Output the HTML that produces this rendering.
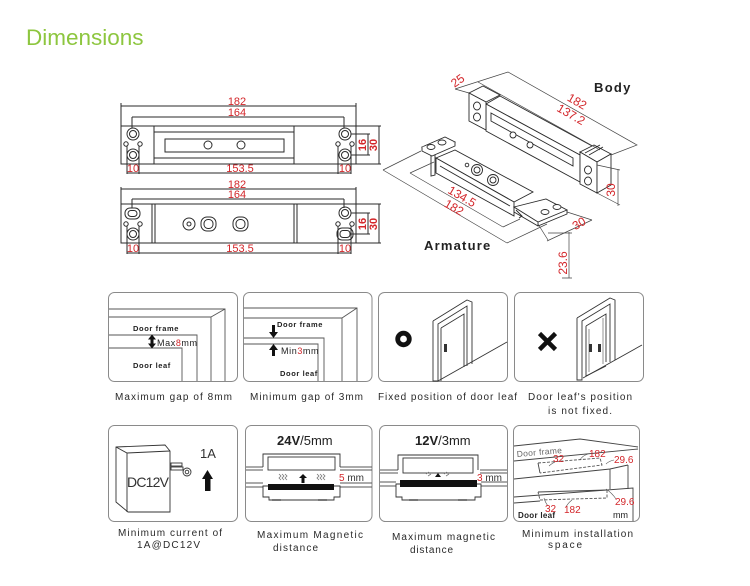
<!DOCTYPE html>
<html><head><meta charset="utf-8"><style>
html,body{margin:0;padding:0;background:#fff;}
svg{display:block;}
text{font-family:"Liberation Sans",sans-serif;}
</style></head><body>
<svg width="750" height="586" viewBox="0 0 750 586" xmlns="http://www.w3.org/2000/svg">
<rect width="750" height="586" fill="#fff"/>
<text x="26" y="45" font-size="22.5" fill="#8dc63f">Dimensions</text>

<!-- ===== Top view 1 ===== -->
<g fill="none" stroke="#2a2a2a" stroke-width="1">
<path d="M121,103V126 M356,103V126 M121,106H356 M132,117H344 M132,117V128 M344,117V128"/>
<rect x="121" y="126" width="235" height="38"/>
<rect x="154" y="126" width="140" height="38"/>
<path d="M154,132H294 M154,158H294"/>
<rect x="165" y="139" width="119" height="13"/>
<circle cx="208" cy="145" r="4"/><circle cx="241" cy="145" r="4"/>
<circle cx="133" cy="134" r="6"/><circle cx="133" cy="134" r="3.5"/>
<circle cx="133" cy="155" r="6"/><circle cx="133" cy="155" r="3.5"/>
<circle cx="126" cy="144" r="2.2"/><circle cx="140" cy="144" r="2.2"/>
<circle cx="345" cy="134" r="6"/><circle cx="345" cy="134" r="3.5"/>
<circle cx="345" cy="155" r="6"/><circle cx="345" cy="155" r="3.5"/>
<circle cx="338" cy="144" r="2.2"/><circle cx="352" cy="144" r="2.2"/>
<path d="M127,146V174 M139,146V174 M127,173H351 M338,146V174 M351,146V174"/>
<path d="M356,126H381 M356,164H381 M351,134H370 M351,155H370 M368,134V155 M379,126V164"/>
</g>
<g fill="#d3262a" font-size="11" text-anchor="middle">
<text x="237" y="105">182</text>
<text x="237" y="116">164</text>
<text x="133" y="172">10</text>
<text x="240" y="172">153.5</text>
<text x="345" y="172">10</text>
<text transform="translate(366,145) rotate(-90)" font-weight="bold">16</text>
<text transform="translate(377,145) rotate(-90)" font-weight="bold">30</text>
</g>

<!-- ===== Top view 2 ===== -->
<g fill="none" stroke="#2a2a2a" stroke-width="1">
<path d="M121,187V204 M356,187V204 M121,189H356 M132,199H344 M132,199V208 M344,199V208"/>
<rect x="121" y="204" width="235" height="39"/>
<path d="M152,204V243 M155,204V243 M294,204V243 M297,204V243"/>
<circle cx="189" cy="224" r="6"/><circle cx="189" cy="224" r="2"/>
<rect x="201" y="217" width="15" height="14" rx="6"/><rect x="204" y="219.5" width="9" height="9" rx="4"/>
<rect x="233" y="217" width="15" height="14" rx="6"/><rect x="236" y="219.5" width="9" height="9" rx="4"/>
<rect x="125" y="208" width="15" height="11" rx="5"/><rect x="128" y="210.5" width="9" height="6" rx="3"/>
<circle cx="126" cy="224" r="2.2"/><circle cx="140" cy="224" r="2.2"/>
<circle cx="133" cy="234" r="6"/><circle cx="133" cy="234" r="3.5"/>
<circle cx="345" cy="213" r="6"/><circle cx="345" cy="213" r="3.5"/>
<circle cx="338" cy="224" r="2.2"/><circle cx="352" cy="224" r="2.2"/>
<rect x="337" y="228" width="16" height="12" rx="5"/><rect x="340" y="230.5" width="10" height="7" rx="3"/>
<path d="M127,226V254 M139,226V254 M127,253H351 M338,226V254 M351,226V254"/>
<path d="M356,204H381 M356,243H381 M351,213H370 M351,234H370 M368,213V234 M379,204V243"/>
</g>
<g fill="#d3262a" font-size="11" text-anchor="middle">
<text x="237" y="188">182</text>
<text x="237" y="198">164</text>
<text x="133" y="252">10</text>
<text x="240" y="252">153.5</text>
<text x="345" y="252">10</text>
<text transform="translate(366,224) rotate(-90)" font-weight="bold">16</text>
<text transform="translate(377,224) rotate(-90)" font-weight="bold">30</text>
</g>

<!-- ===== Isometric body ===== -->
<g fill="#fff" stroke="#2a2a2a" stroke-width="0.9">
<polygon points="486,104 500,96 594,147 580,155"/>
<polygon points="486,104 580,155 580,182 486,131"/>
<polygon points="491,113 573,158 573,166 491,121" fill="none"/>
<circle cx="513" cy="135" r="3"/><circle cx="530" cy="145" r="3"/>
<polygon points="469,93 483,86 500,95 486,102"/>
<polygon points="469,93 486,102 486,130 469,121"/>
<ellipse cx="477" cy="106" rx="3.5" ry="4"/><ellipse cx="477" cy="117" rx="3.5" ry="4"/>
<polygon points="580,152 594,145 611,154 597,162"/>
<polygon points="580,152 597,162 597,193 580,184"/>
<polygon points="597,162 611,154 611,185 597,193"/>
<ellipse cx="588" cy="170" rx="3.5" ry="4"/><ellipse cx="588" cy="181" rx="3.5" ry="4"/>
<path d="M585,153 L600,145 M589,155 L603,147" fill="none"/>
</g>
<g fill="none" stroke="#444" stroke-width="0.7">
<path d="M455,89 L508,72 L637,145 L611,155 M478,82 L600,150 M455,89 L469,93"/>
<path d="M597,165 L620,170 M597,193 L620,205 M618,169 V206"/>
</g>
<g fill="#d3262a" font-size="12" text-anchor="middle">
<text transform="translate(460,84) rotate(-35)">25</text>
<text transform="translate(575,105) rotate(30)">182</text>
<text transform="translate(569,118) rotate(30)">137.2</text>
<text transform="translate(615,190) rotate(-90)">30</text>
</g>
<text x="594" y="92" font-size="13" font-weight="bold" letter-spacing="1.3" fill="#222">Body</text>

<!-- ===== Isometric armature ===== -->
<g fill="#fff" stroke="#2a2a2a" stroke-width="0.9">
<polygon points="431,153 435,151 435,175 431,176"/>
<polygon points="422,147 445,137 455,142 432,152"/>
<path d="M422,147 V151 L432,156 L455,146 V142" />
<ellipse cx="431" cy="147" rx="4" ry="2.5"/><ellipse cx="442" cy="142.5" rx="4" ry="2.5"/>
<polygon points="436,158 455,150 533,192 514,202"/>
<polygon points="436,158 514,202 514,216 436,173"/>
<path d="M440,166 L510,206" fill="none"/>
<circle cx="467" cy="165" r="1.8"/>
<circle cx="477" cy="170" r="5.5"/><circle cx="477" cy="170" r="3"/>
<circle cx="493" cy="180" r="5.5"/><circle cx="493" cy="180" r="3"/>
<polygon points="514,207 546,199 567,210 538,222"/>
<path d="M514,207 V212 L538,226 L567,214 V210 M538,222 V226" fill="none"/>
<ellipse cx="545" cy="212" rx="4" ry="2.5"/><ellipse cx="557" cy="207" rx="4" ry="2.5"/>
<path d="M516,210 L522,216 L519,218" fill="none"/>
</g>
<g fill="none" stroke="#444" stroke-width="0.7">
<path d="M383,170 L507,243 M383,170 L421,151 M410,173 L503,227 M410,173 L434,162"/>
<path d="M503,227 L520,219 M507,243 L547,224"/>
<path d="M547,241 L592,220 M538,224 L548,240 M567,212 L592,220"/>
<path d="M548,233 H572 M569,232 V278 M562,278 H572"/>
</g>
<g fill="#d3262a" font-size="12" text-anchor="middle">
<text transform="translate(460,200) rotate(30)">134.5</text>
<text transform="translate(452,211) rotate(30)">182</text>
<text transform="translate(581,227) rotate(-30)">30</text>
<text transform="translate(567,263) rotate(-90)">23.6</text>
</g>
<text x="424" y="250" font-size="13" font-weight="bold" letter-spacing="1.2" fill="#222">Armature</text>

<!-- ===== Panels ===== -->
<g fill="#fff" stroke="#8a8a8a" stroke-width="1">
<rect x="108.5" y="292.5" width="129" height="89" rx="6"/>
<rect x="243.5" y="292.5" width="128.5" height="89" rx="6"/>
<rect x="378.5" y="292.5" width="129" height="89" rx="6"/>
<rect x="514.5" y="292.5" width="129" height="89" rx="6"/>
<rect x="108.5" y="425.5" width="129" height="96" rx="6"/>
<rect x="245.5" y="425.5" width="126.5" height="96" rx="6"/>
<rect x="379.5" y="425.5" width="128" height="96" rx="6"/>
<rect x="513.5" y="425.5" width="126" height="96" rx="6"/>
</g>

<!-- Panel 1 -->
<g fill="none" stroke="#555" stroke-width="0.9">
<path d="M109,309H225V381 M109,317H211V381 M211,317L225,309 M109,335H197V381 M109,348H182V381"/>
</g>
<g fill="#222" font-size="7.5" font-weight="bold" letter-spacing="0.6">
<text x="133" y="331">Door frame</text>
<text x="133" y="368">Door leaf</text>
</g>
<text x="157" y="346" font-size="9" letter-spacing="0.6" fill="#222">Max<tspan fill="#d3262a">8</tspan>mm</text>
<g fill="#111">
<polygon points="148,339.5 152,334.5 156,339.5"/>
<polygon points="148,343.5 152,348.5 156,343.5"/>
<rect x="150.5" y="338" width="3" height="7"/>
</g>

<!-- Panel 2 -->
<g fill="none" stroke="#555" stroke-width="0.9">
<path d="M244,308H357V381 M244,318H342V381 M342,318L357,308 M244,338H324V381 M244,344H318V381"/>
</g>
<g fill="#222" font-size="7.5" font-weight="bold" letter-spacing="0.6">
<text x="277" y="327">Door frame</text>
<text x="280" y="376">Door leaf</text>
</g>
<text x="281" y="354" font-size="9" letter-spacing="0.6" fill="#222">Min<tspan fill="#d3262a">3</tspan>mm</text>
<g fill="#111">
<rect x="272" y="325" width="3" height="8"/>
<polygon points="269,332 273.5,338 278,332"/>
<rect x="272" y="349" width="3" height="7"/>
<polygon points="269,350 273.5,344 278,350"/>
</g>

<!-- Panel 3 -->
<circle cx="403.5" cy="339" r="5.8" fill="none" stroke="#111" stroke-width="4.8"/>
<g fill="none" stroke="#333" stroke-width="0.9">
<path d="M433,321 L467,300 L472,302 V364 M433,321 V381 H438 V324 L467,306 V366"/>
<path d="M441,328 L464,314 V367 M441,328 V381"/>
<path d="M438,381 L507,342"/>
</g>
<rect x="444" y="344" width="3" height="8" fill="#333"/>

<!-- Panel 4 -->
<path d="M539.5,333.5 L555.5,349.5 M555.5,333.5 L539.5,349.5" stroke="#111" stroke-width="4.5"/>
<g fill="none" stroke="#333" stroke-width="0.9">
<path d="M577,318 L610,298 L615,300 V360 M577,318 V380 H582 V321 L610,304 V362"/>
<path d="M586,326 L606,314 V362 M586,326 V376 L606,366"/>
<path d="M589,329 V372 M603,318 V364" stroke="#888"/>
<path d="M583,378 L642,345"/>
</g>
<rect x="589" y="344" width="3" height="8" fill="#333"/>
<rect x="598" y="344" width="3" height="8" fill="#333"/>

<!-- Row 1 captions -->
<g fill="#2a2a2a" font-size="10">
<text x="115" y="400" textLength="117" lengthAdjust="spacing">Maximum gap of 8mm</text>
<text x="250" y="400" textLength="113" lengthAdjust="spacing">Minimum gap of 3mm</text>
<text x="378" y="400" textLength="139" lengthAdjust="spacing">Fixed position of door leaf</text>
<text x="528" y="400" textLength="104" lengthAdjust="spacing">Door leaf's position</text>
<text x="548" y="414" textLength="64" lengthAdjust="spacing">is not fixed.</text>
</g>

<!-- Row2 Panel 1: adapter -->
<g fill="#fff" stroke="#333" stroke-width="0.9">
<path d="M116,447 L165,445 L170,451 V512 H128 L116,502 Z"/>
<path d="M116,447 L127,453 L170,451 M127,453 V512" fill="none"/>
<rect x="171" y="463" width="11" height="3"/>
<rect x="171" y="467" width="12" height="3"/>
<circle cx="187" cy="472" r="4"/><circle cx="187" cy="472" r="1.8"/>
</g>
<text x="127" y="487" font-size="14" fill="#333" textLength="42" lengthAdjust="spacing">DC12V</text>
<text x="200" y="458" font-size="13" fill="#333">1A</text>
<polygon points="202,479 207.5,470 213,479" fill="#111"/>
<rect x="205" y="478" width="5.5" height="13" fill="#111"/>

<!-- Row2 Panel 2: magnet 24V -->
<text x="277" y="445" font-size="13" fill="#222"><tspan font-weight="bold">24V</tspan>/5mm</text>
<g fill="none" stroke="#555" stroke-width="0.9">
<path d="M246,467H263 M246,470H263 M340,467H372 M340,470H372 M246,483H263 M246,487H263 M340,483H372 M340,487H372"/>
</g>
<g fill="#fff" stroke="#333" stroke-width="0.9">
<path d="M263,467 V454 H340 V467"/>
<rect x="268" y="457" width="67" height="13"/>
<path d="M263,486 H340 V497 H334 V500 H269 V497 H263 Z"/>
</g>
<rect x="268" y="484" width="66" height="6" fill="#111"/>
<rect x="272" y="499" width="9" height="2" fill="#777"/><rect x="318" y="499" width="9" height="2" fill="#777"/>
<g fill="none" stroke="#777" stroke-width="0.8">
<path d="M279,474 l2,2 -2,2 2,2 M282,474 l2,2 -2,2 2,2 M285,474 l2,2 -2,2 2,2"/>
<path d="M317,474 l2,2 -2,2 2,2 M320,474 l2,2 -2,2 2,2 M323,474 l2,2 -2,2 2,2"/>
</g>
<polygon points="299,478 303,474 307,478" fill="#111"/>
<rect x="301.5" y="477" width="3" height="6" fill="#111"/>
<text x="339" y="481" font-size="10" fill="#333"><tspan fill="#d3262a">5</tspan> mm</text>

<!-- Row2 Panel 3: magnet 12V -->
<text x="415" y="445" font-size="13" fill="#222"><tspan font-weight="bold">12V</tspan>/3mm</text>
<g fill="none" stroke="#555" stroke-width="0.9">
<path d="M380,470H398 M380,473H398 M480,470H507 M480,473H507 M380,482H396 M380,486H396 M481,482H507 M481,486H507"/>
</g>
<g fill="#fff" stroke="#333" stroke-width="0.9">
<path d="M398,470 V455 H478 V470"/>
<rect x="403" y="458" width="70" height="15"/>
<path d="M396,484 H481 V497 H475 V500 H402 V497 H396 Z"/>
</g>
<rect x="400" y="480" width="77" height="7" fill="#111"/>
<rect x="409" y="499" width="9" height="2" fill="#777"/><rect x="458" y="499" width="9" height="2" fill="#777"/>
<g fill="none" stroke="#777" stroke-width="0.8">
<path d="M426,474 l3,-2 M428,476 l3,-2 M444,474 l3,-2 M446,476 l3,-2"/>
</g>
<polygon points="435,477 438,473 441,477" fill="#111"/>
<text x="477" y="481" font-size="10" fill="#333"><tspan fill="#d3262a">3</tspan> mm</text>

<!-- Row2 Panel 4: installation space -->
<g fill="none" stroke="#444" stroke-width="0.9">
<path d="M514,446 L580,439 L638,447"/>
<path d="M514,461 L638,449"/>
<path d="M514,479 L610,469 L628,465 M610,469 V489 M628,465 V489"/>
<path d="M514,497 L633,488 V521 M514,503 L540,501"/>
<path d="M538,463 L540,473" />
<path d="M538,492 L607,490"/>
</g>
<g fill="none" stroke="#555" stroke-width="0.9" stroke-dasharray="3,1.5">
<path d="M538,463 L600,458 L602,465 L540,473"/>
<path d="M607,490 L607,498 L540,500 L538,492"/>
</g>
<g fill="none" stroke="#555" stroke-width="0.6">
<path d="M555,462 q-4,2 -6,4 M588,454 q-6,2 -8,6 M614,460 q-5,1 -8,4 M616,499 q-4,-6 -10,-10 M548,506 q-3,-4 -4,-8 M566,507 q2,-4 6,-7"/>
</g>
<text transform="translate(517,457) rotate(-5)" font-size="8.5" fill="#666" letter-spacing="0.3">Door frame</text>
<g fill="#d3262a" font-size="10">
<text x="553" y="462">32</text>
<text x="589" y="457">182</text>
<text x="614" y="463">29.6</text>
<text x="615" y="505">29.6</text>
<text x="545" y="512">32</text>
<text x="564" y="513">182</text>
</g>
<text x="613" y="518" font-size="9" fill="#222">mm</text>
<text x="518" y="518" font-size="8" font-weight="bold" fill="#222" letter-spacing="0.3">Door leaf</text>

<!-- Row 2 captions -->
<g fill="#2a2a2a" font-size="10">
<text x="118" y="536" textLength="104" lengthAdjust="spacing">Minimum current of</text>
<text x="137" y="548" textLength="63" lengthAdjust="spacing">1A@DC12V</text>
<text x="257" y="538" textLength="106" lengthAdjust="spacing">Maximum Magnetic</text>
<text x="273" y="551" textLength="45" lengthAdjust="spacing">distance</text>
<text x="392" y="540" textLength="103" lengthAdjust="spacing">Maximum magnetic</text>
<text x="410" y="553" textLength="43" lengthAdjust="spacing">distance</text>
<text x="522" y="537" textLength="111" lengthAdjust="spacing">Minimum installation</text>
<text x="548" y="548" textLength="34" lengthAdjust="spacing">space</text>
</g>
</svg>
</body></html>
